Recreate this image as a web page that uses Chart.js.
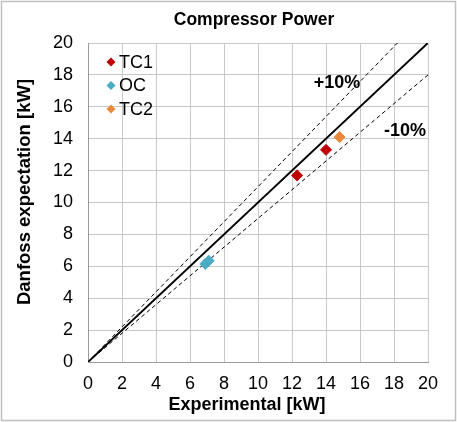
<!DOCTYPE html>
<html>
<head>
<meta charset="utf-8">
<script src="https://cdn.jsdelivr.net/npm/chart.js@4.4.1/dist/chart.umd.min.js"></script>
<style>
  html, body { margin: 0; padding: 0; background: #fff; }
</style>
</head>
<body>
<canvas id="powerChart" width="457" height="422"></canvas>
<script>
/* ===============================
   DATA
================================ */
const seriesNames = ["TC1", "OC", "TC2"];
const seriesColors = ["#C00000", "#4BACC6", "#E8893B"];

const tc1Experimental = [12.3, 14.0];
const tc1Expected = [11.7, 13.3];
const ocExperimental = [6.9, 7.1];
const ocExpected = [6.15, 6.35];
const tc2Experimental = [14.8];
const tc2Expected = [14.1];

// reference lines: parity and +/-10 %
const parityX = [0, 20];
const parityY = [0, 20];
const plusTenX = [0, 18.2];
const plusTenY = [0, 20];
const minusTenX = [0, 20];
const minusTenY = [0, 18];

const axisTicks = [0, 2, 4, 6, 8, 10, 12, 14, 16, 18, 20];

const FONT = "'Liberation Sans', Arial, sans-serif";

function toPoints(xs, ys) {
  return xs.map((x, i) => ({ x: x, y: ys[i] }));
}

function markerSet(idx, xs, ys) {
  return {
    label: seriesNames[idx],
    data: toPoints(xs, ys),
    pointStyle: "rectRot",
    pointRadius: 5.5,
    pointHoverRadius: 5.5,
    backgroundColor: seriesColors[idx],
    borderColor: seriesColors[idx],
    borderWidth: 1,
    showLine: false,
    order: 0
  };
}

function refLine(xs, ys, width, dash) {
  return {
    label: "",
    data: toPoints(xs, ys),
    showLine: true,
    pointRadius: 0,
    borderColor: "#000",
    borderWidth: width,
    borderDash: dash,
    fill: false,
    order: 5
  };
}

/* ===============================
   TITLES + FRAME
================================ */
const framePlugin = {
  id: "frame",
  beforeDraw(chart) {
    const ctx = chart.ctx;
    ctx.save();
    ctx.fillStyle = "#fff";
    ctx.fillRect(0, 0, chart.width, chart.height);
    ctx.strokeStyle = "#BFBFBF";
    ctx.lineWidth = 1.5;
    ctx.strokeRect(1.5, 1.5, chart.width - 3, chart.height - 3);
    ctx.restore();
  },
  afterDraw(chart) {
    const ctx = chart.ctx;
    ctx.save();
    ctx.fillStyle = "#000";
    ctx.textAlign = "center";
    ctx.textBaseline = "middle";

    ctx.font = "bold 17.5px " + FONT;
    ctx.fillText("Compressor Power", 254, 20);

    ctx.font = "bold 18px " + FONT;
    ctx.fillText("Experimental [kW]", 247, 405);

    ctx.translate(25, 192);
    ctx.rotate(-Math.PI / 2);
    ctx.font = "bold 18.5px " + FONT;
    ctx.fillText("Danfoss expectation [kW]", 0, 0);
    ctx.restore();
  }
};

/* ===============================
   LEGEND (inside plot)
================================ */
const legendPlugin = {
  id: "insideLegend",
  afterDatasetsDraw(chart) {
    const ctx = chart.ctx;
    ctx.save();
    ctx.font = "18px " + FONT;
    ctx.textBaseline = "middle";
    ctx.textAlign = "left";
    seriesNames.forEach((name, i) => {
      const y = 62 + i * 23.5;
      const x = 111;
      ctx.fillStyle = seriesColors[i];
      ctx.beginPath();
      ctx.moveTo(x - 4.5, y);
      ctx.lineTo(x, y - 4.5);
      ctx.lineTo(x + 4.5, y);
      ctx.lineTo(x, y + 4.5);
      ctx.closePath();
      ctx.fill();
      ctx.fillStyle = "#000";
      ctx.fillText(name, x + 8, y + 1);
    });
    ctx.restore();
  }
};

/* ===============================
   +/-10% LABELS
================================ */
const bandLabels = [
  { text: "+10%", x: 14.65, y: 17.5 },
  { text: "-10%", x: 18.65, y: 14.5 }
];

const bandLabelPlugin = {
  id: "bandLabels",
  afterDatasetsDraw(chart) {
    const ctx = chart.ctx;
    const xs = chart.scales.x;
    const ys = chart.scales.y;
    ctx.save();
    ctx.font = "bold 18px " + FONT;
    ctx.fillStyle = "#000";
    ctx.textAlign = "center";
    ctx.textBaseline = "middle";
    bandLabels.forEach(l => {
      ctx.fillText(l.text, xs.getPixelForValue(l.x), ys.getPixelForValue(l.y));
    });
    ctx.restore();
  }
};

/* ===============================
   CHART
================================ */
function axisOptions(fitFn, pad) {
  return {
    type: "linear",
    min: 0,
    max: 20,
    afterBuildTicks: s => { s.ticks = axisTicks.map(v => ({ value: v })); },
    afterFit: fitFn,
    grid: { color: "#C8C8C8", lineWidth: 1, drawTicks: false },
    border: { color: "#9A9A9A", width: 1 },
    ticks: {
      color: "#000",
      font: { family: FONT, size: 18 },
      padding: pad
    },
    title: { display: false }
  };
}

new Chart(document.getElementById("powerChart").getContext("2d"), {
  type: "scatter",
  data: {
    datasets: [
      markerSet(0, tc1Experimental, tc1Expected),
      markerSet(1, ocExperimental, ocExpected),
      markerSet(2, tc2Experimental, tc2Expected),
      refLine(parityX, parityY, 2, []),
      refLine(plusTenX, plusTenY, 1, [4, 3]),
      refLine(minusTenX, minusTenY, 1, [4, 3])
    ]
  },
  options: {
    responsive: false,
    animation: false,
    layout: { padding: { left: 4, right: 29, top: 43, bottom: 0 } },
    plugins: {
      legend: { display: false },
      title: { display: false },
      tooltip: { enabled: false }
    },
    scales: {
      x: axisOptions(s => { s.height = 60; }, 11),
      y: axisOptions(s => { s.width = 84; }, 15)
    }
  },
  plugins: [framePlugin, legendPlugin, bandLabelPlugin]
});
</script>
</body>
</html>
